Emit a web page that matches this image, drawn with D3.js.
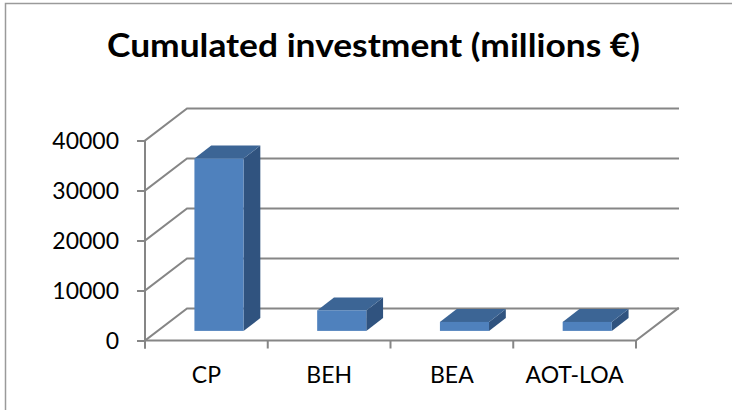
<!DOCTYPE html>
<html>
<head>
<meta charset="utf-8">
<script src="https://cdn.jsdelivr.net/npm/d3@7"></script>
<style>
  html, body { margin: 0; padding: 0; background: #fff; }
  svg { display: block; }
  text { font-family: Lato, "Open Sans", sans-serif; fill: #000; }
</style>
</head>
<body>
<svg id="chart" width="732" height="410"></svg>
<script>
// Cumulated investment per programme, in millions of euros
const categories = ["CP", "BEH", "BEA", "AOT-LOA"];
const investment = [34500, 4100, 1800, 1800];
const yTicks = [0, 10000, 20000, 30000, 40000];
const titleText = "Cumulated investment (millions €)";

const svg = d3.select("#chart");
const W = 732, H = 410;

// plot box (front plane) and depth vector of the 3D floor/walls
const x0 = 145, x1 = 636, yBase = 340.5, yTop = 140.5;
const depth = { dx: 42, dy: -32 };
const barDepth = [0.3, 0.7];       // fraction of the depth occupied by the bars
const barWidthFrac = 0.4;          // bar width as a fraction of the band

const x = d3.scaleBand().domain(categories).range([x0, x1]).paddingInner(0).paddingOuter(0);
const y = d3.scaleLinear().domain([0, 40000]).range([yBase, yTop]);

const gridColor = "#868686";

// outer chart frame
svg.append("rect")
  .attr("x", 5.5).attr("y", 3.5)
  .attr("width", W + 20).attr("height", H + 20)
  .attr("fill", "none").attr("stroke", "#9a9a9a").attr("stroke-width", 1.5);

// title
svg.append("text")
  .attr("x", 373.5).attr("y", 57)
  .attr("text-anchor", "middle")
  .attr("font-weight", "bold")
  .attr("font-size", 32)
  .attr("textLength", 533)
  .attr("lengthAdjust", "spacingAndGlyphs")
  .text(titleText);

const grid = svg.append("g")
  .attr("stroke", gridColor).attr("stroke-width", 2).attr("fill", "none")
  .attr("stroke-linecap", "square");

// side wall diagonals + back wall gridlines
yTicks.forEach(v => {
  const yy = y(v);
  grid.append("path").attr("d", d3.line()([
    [x0, yy], [x0 + depth.dx, yy + depth.dy], [x1 + depth.dx, yy + depth.dy]
  ]));
});

// floor: front edge and right edge
grid.append("path").attr("d", d3.line()([
  [x0, yBase], [x1, yBase], [x1 + depth.dx, yBase + depth.dy]
]));

// value axis (front-left vertical) with ticks
const yAxis = d3.axisLeft(y).tickValues(yTicks).tickSize(8).tickPadding(18)
  .tickFormat(d3.format("d"));
const gy = svg.append("g").attr("transform", `translate(${x0},0)`).call(yAxis);
gy.select(".domain").remove();
gy.selectAll(".tick line").attr("stroke", gridColor).attr("stroke-width", 2);
gy.selectAll(".tick text")
  .attr("font-size", 23)
  .attr("font-family", "Lato, 'Open Sans', sans-serif")
  .attr("fill", "#000")
  .attr("dy", "0.36em");
svg.append("line")
  .attr("x1", x0).attr("x2", x0).attr("y1", yTop).attr("y2", yBase + 8)
  .attr("stroke", gridColor).attr("stroke-width", 2);

// category axis: tick marks at band boundaries, labels at band centres
const bounds = categories.map(c => x(c)).concat([x1]);
svg.append("g").selectAll("line").data(bounds).join("line")
  .attr("x1", d => d).attr("x2", d => d)
  .attr("y1", yBase).attr("y2", yBase + 8)
  .attr("stroke", gridColor).attr("stroke-width", 2);
svg.append("g").selectAll("text").data(categories).join("text")
  .attr("x", d => x(d) + x.bandwidth() / 2)
  .attr("y", 383)
  .attr("text-anchor", "middle")
  .attr("font-size", 23)
  .text(d => d);

// 3D bars
const colFront = "#4f81bd", colTop = "#3c6595", colSide = "#30537f";
const bw = x.bandwidth() * barWidthFrac;
const bars = svg.append("g");
categories.forEach((c, i) => {
  const v = investment[i];
  const fx = x(c) + x.bandwidth() / 2 - bw / 2 + depth.dx * barDepth[0];
  const fyOff = depth.dy * barDepth[0];
  const ddx = depth.dx * (barDepth[1] - barDepth[0]);
  const ddy = depth.dy * (barDepth[1] - barDepth[0]);
  const yb = yBase + fyOff, yt = y(v) + fyOff;
  const g = bars.append("g");
  // side face
  g.append("path").attr("fill", colSide).attr("d", d3.line()([
    [fx + bw, yt], [fx + bw + ddx, yt + ddy], [fx + bw + ddx, yb + ddy], [fx + bw, yb]
  ]) + "Z");
  // top face
  g.append("path").attr("fill", colTop).attr("d", d3.line()([
    [fx, yt], [fx + ddx, yt + ddy], [fx + bw + ddx, yt + ddy], [fx + bw, yt]
  ]) + "Z");
  // front face
  g.append("rect").attr("fill", colFront)
    .attr("x", fx).attr("y", yt).attr("width", bw).attr("height", yb - yt);
});
</script>
</body>
</html>
